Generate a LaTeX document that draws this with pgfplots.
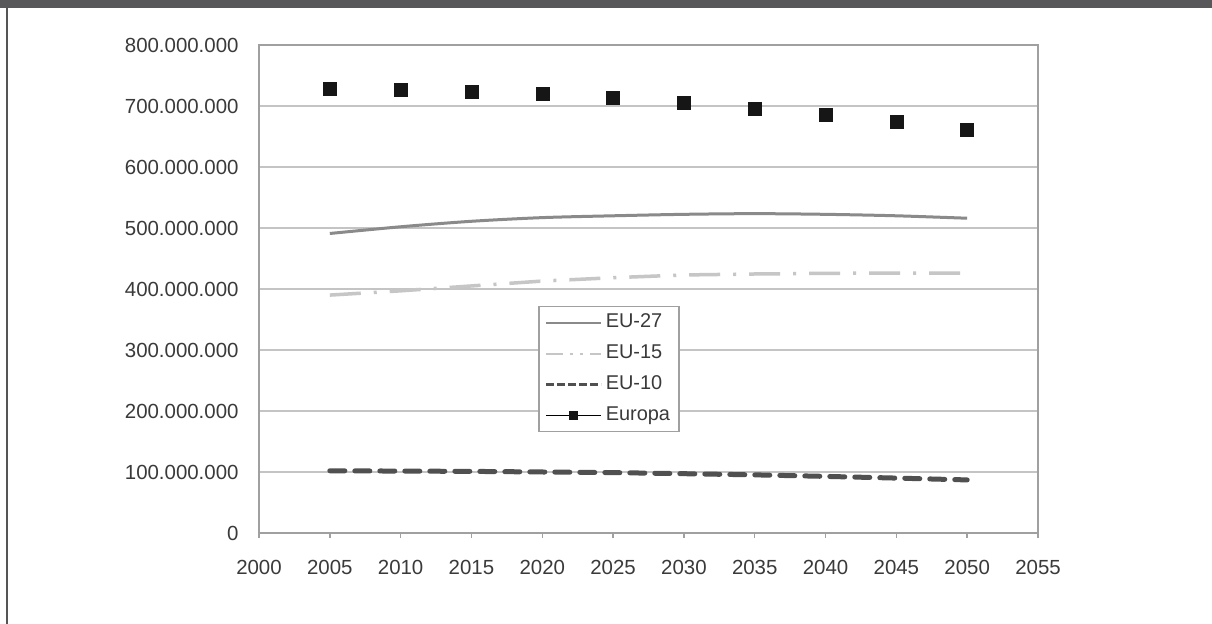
\documentclass[border=0pt]{standalone}
\usepackage{pgfplots}
\pgfplotsset{compat=1.18}
\usepackage{fontspec}
\setmainfont{Liberation Sans}

\definecolor{topbar}{HTML}{58585A}
\definecolor{framecol}{HTML}{555555}
\definecolor{axiscol}{HTML}{A0A0A0}
\definecolor{gridcol}{HTML}{C4C4C4}
\definecolor{textcol}{HTML}{3A3A3A}
\definecolor{eutwentyseven}{HTML}{8A8A8A}
\definecolor{eufifteen}{HTML}{C6C6C6}
\definecolor{euten}{HTML}{505050}
\definecolor{europa}{HTML}{161616}

% population projections (inhabitants)
\pgfplotstableread{
year  eu27       eu15       eu10       europa
2005  491000000  390000000  102000000  728000000
2010  502000000  397000000  101500000  726000000
2015  511000000  405000000  101000000  723000000
2020  517000000  413000000  100000000  719500000
2025  520000000  418500000  99000000   713000000
2030  522400000  423000000  97200000   705000000
2035  523500000  424600000  95300000   695000000
2040  522400000  425700000  92800000   686000000
2045  520000000  426200000  90000000   674000000
2050  516000000  426000000  87000000   660500000
}\popdata

\begin{document}
\begin{tikzpicture}[x=1bp,y=1bp]
\useasboundingbox (0,0) rectangle (1212,624);
\fill[white] (0,0) rectangle (1212,624);
\fill[topbar] (0,616) rectangle (1212,624);
\draw[framecol, line width=2bp] (7,0) -- (7,616);
\begin{axis}[
  at={(259bp,91bp)}, anchor=south west,
  scale only axis, width=779bp, height=488bp,
  xmin=2000, xmax=2055, ymin=0, ymax=800000000,
  xtick={2000,2005,...,2055},
  xticklabels={2000,2005,2010,2015,2020,2025,2030,2035,2040,2045,2050,2055},
  ytick={0,100000000,...,800000000},
  yticklabels={0,100.000.000,200.000.000,300.000.000,400.000.000,500.000.000,600.000.000,700.000.000,800.000.000},
  scaled y ticks=false,
  xtick pos=bottom, ytick pos=left,
  tick align=outside, major tick length=5bp,
  ytick style={draw=none},
  xtick style={axiscol, line width=1.5bp},
  axis line style={axiscol, line width=2bp},
  ymajorgrids, major grid style={gridcol, line width=1.5bp},
  ticklabel style={font=\fontsize{20.5}{24}\selectfont, text=textcol},
  yticklabel style={xshift=-12bp},
  xticklabel style={yshift=-19bp},
  clip=false,
  legend image code/.code={\draw[mark repeat=2,mark phase=2,#1] plot coordinates {(0bp,0bp) (27.5bp,0bp) (55bp,0bp)};},
  legend cell align=left,
  legend style={at={(0.3582,0.4652)}, anchor=north west,
    draw=axiscol, line width=1.5bp, fill=white,
    font=\fontsize{20}{24}\selectfont, text=textcol,
    inner xsep=6bp, inner ysep=4bp, row sep=7bp,
    nodes={text height=14bp, text depth=4bp, inner ysep=3bp, inner xsep=3bp}},
]
\addplot[eutwentyseven, line width=3bp, smooth, forget plot] table[x=year, y=eu27] {\popdata};
\addplot[eufifteen, line width=3.5bp, dash pattern=on 31bp off 13bp on 3bp off 13bp, forget plot] table[x=year, y=eu15] {\popdata};
\addplot[euten, line width=5bp, line cap=round, dash pattern=on 15bp off 10bp, forget plot] table[x=year, y=eu10] {\popdata};
\addplot[only marks, mark=square*, mark size=6.5bp, mark options={europa, fill=europa}, forget plot] table[x=year, y=europa] {\popdata};

\addlegendimage{eutwentyseven, line width=2bp}
\addlegendentry{EU-27}
\addlegendimage{eufifteen, line width=2bp, dash pattern=on 17bp off 7bp on 3bp off 7bp on 3bp off 7bp}
\addlegendentry{EU-15}
\addlegendimage{euten, line width=3bp, dash pattern=on 8bp off 3bp}
\addlegendentry{EU-10}
\addlegendimage{black, line width=1.2bp, mark=square*, mark size=4bp, mark options={europa, fill=europa}}
\addlegendentry{Europa}
\end{axis}
\end{tikzpicture}
\end{document}
